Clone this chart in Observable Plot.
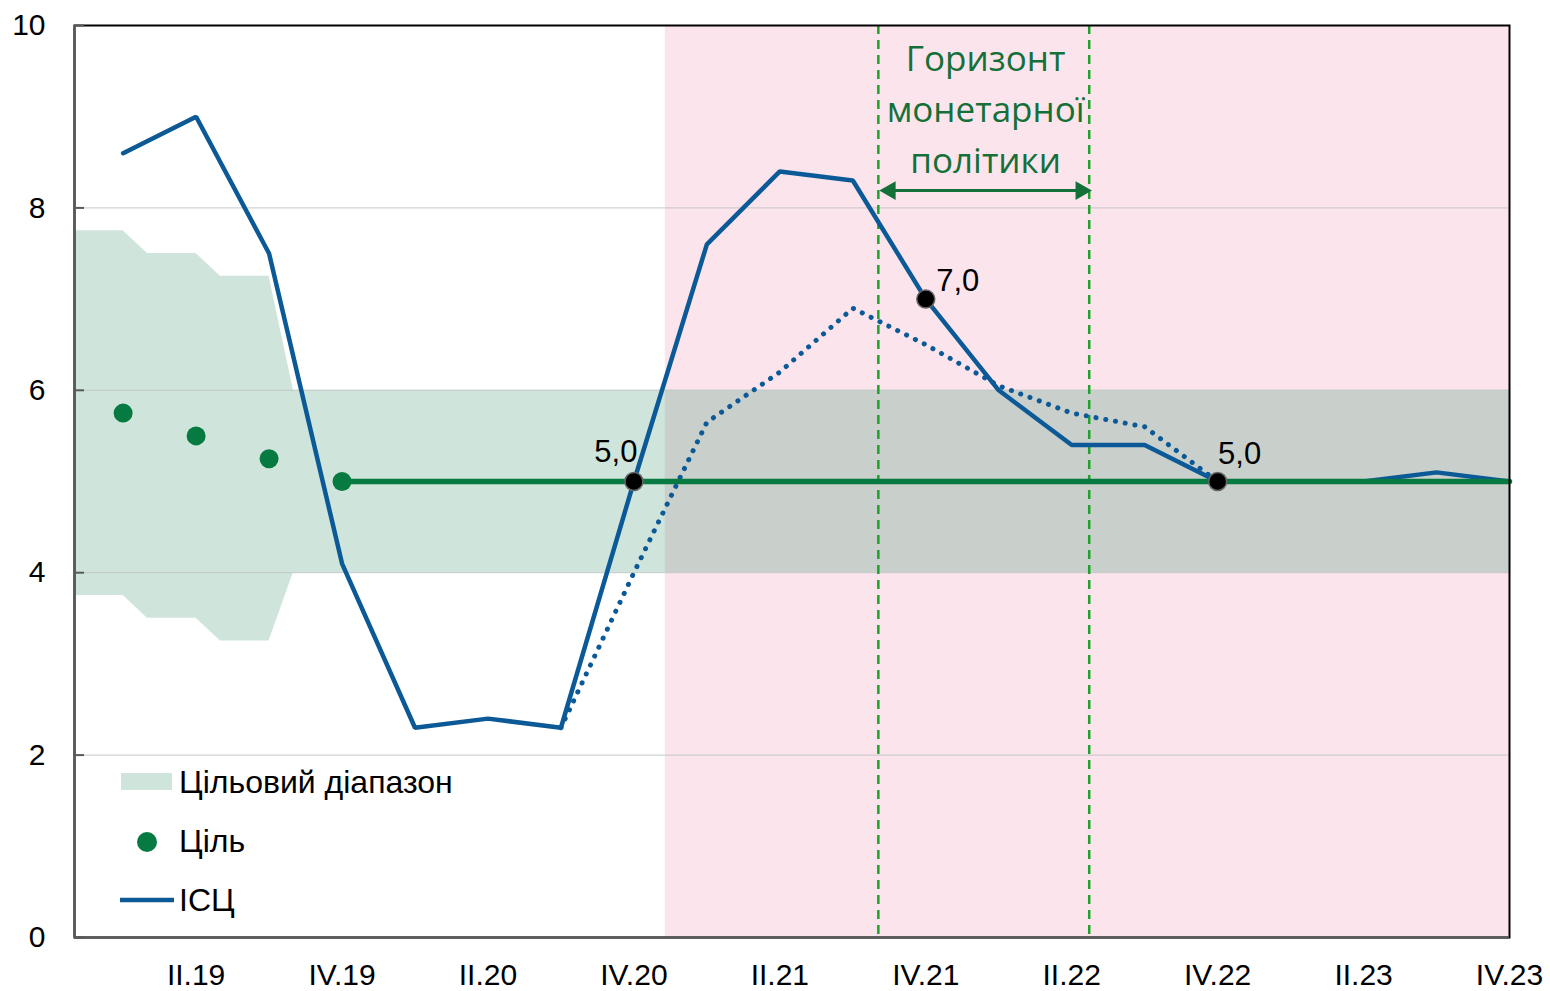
<!DOCTYPE html>
<html><head><meta charset="utf-8">
<script src="https://cdn.jsdelivr.net/npm/d3@7"></script>
<script src="https://cdn.jsdelivr.net/npm/@observablehq/plot@0.6"></script>
<style>body{margin:0;background:#fff}#chart{width:1550px;height:991px}</style>
</head><body><div id="chart"></div>
<script>
// Quarters (x index 0 = I.19)
const quarters = ["I.19","II.19","III.19","IV.19","I.20","II.20","III.20","IV.20","I.21","II.21","III.21","IV.21","I.22","II.22","III.22","IV.22","I.23","II.23","III.23","IV.23"];
const tickQuarters = ["II.19","IV.19","II.20","IV.20","II.21","IV.21","II.22","IV.22","II.23","IV.23"];
// CPI, % y/y (actual + current forecast)
const cpi = [8.6, 9.0, 7.5, 4.1, 2.3, 2.4, 2.3, 5.0, 7.6, 8.4, 8.3, 7.0, 6.0, 5.4, 5.4, 5.0, 5.0, 5.0, 5.1, 5.0];
// Previous forecast (dotted), from III.20
const cpiPrevQuarters = ["III.20","IV.20","I.21","II.21","III.21","IV.21","I.22","II.22","III.22","IV.22"];
const cpiPrev = [2.3, 4.0, 5.65, 6.2, 6.9, 6.5, 6.05, 5.75, 5.6, 5.0];
// Inflation target (point)
const targetDotQuarters = ["I.19","II.19","III.19","IV.19"];
const targetDots = [5.75, 5.5, 5.25, 5.0];
const targetLineQuarters = ["IV.19","IV.23"];
const targetLine = [5.0, 5.0];
// Target range (monthly breakpoints, "MM.YY")
const bandMonths = ["01.19","03.19","04.19","06.19","07.19","09.19","10.19","12.23"];
const bandLow  = [3.75, 3.75, 3.5, 3.5, 3.25, 3.25, 4.0, 4.0];
const bandHigh = [7.75, 7.75, 7.5, 7.5, 7.25, 7.25, 6.0, 6.0];
// Forecast period start (quarter index), policy horizon, arrow
const forecastStart = 7.43;
const horizonBounds = [10.35, 13.24];
const arrowEnds = [10.43, 13.21];
const arrowLevel = 8.19;
// Highlighted points
const markedQuarters = ["IV.20","IV.21","IV.22"];
const markedValues = [5.0, 7.0, 5.0];
const markedLabels = ["5,0","7,0","5,0"];
const yTicks = [0, 2, 4, 6, 8, 10];
const horizonText = "Горизонт\nмонетарної\nполітики";
const legendLabels = ["Цільовий діапазон", "Ціль", "ІСЦ"];

const qi = q => quarters.indexOf(q);
const monthX = s => { const [mm, yy] = s.split(".").map(Number); return ((yy - 19) * 12 + (mm - 1) - 2) / 3; };
const xMin = monthX("01.19"), xMax = qi("IV.23");

const C = {
  blue: "#0b5a97", green: "#077a42", band: "#cfe5db", pink: "#fce4ec", overlap: "#c9cfca",
  dash: "#1fa22a", arrow: "#137038", grid: "#c4c7c9", axis: "#595959"
};

const cpiData = cpi.map((v, i) => ({x: i, y: v}));
const prevData = cpiPrev.map((v, i) => ({x: qi(cpiPrevQuarters[i]), y: v}));
const dotData = targetDots.map((v, i) => ({x: qi(targetDotQuarters[i]), y: v}));
const lineData = targetLine.map((v, i) => ({x: qi(targetLineQuarters[i]), y: v}));
const bandData = bandMonths.map((m, i) => ({x: monthX(m), lo: bandLow[i], hi: bandHigh[i]}));
const marked = markedValues.map((v, i) => ({x: qi(markedQuarters[i]), y: v, label: markedLabels[i]}));
const labelOffsets = [[-18, -29], [32, -18], [22, -27]];
const arrowMid = (arrowEnds[0] + arrowEnds[1]) / 2;

const font = "'Liberation Sans', Arial, sans-serif";
const plot = Plot.plot({
  width: 1550, height: 991,
  marginLeft: 74, marginRight: 41, marginTop: 25, marginBottom: 54,
  x: {domain: [xMin, xMax]},
  y: {domain: [0, 10]},
  style: {fontFamily: font, background: "white", color: "#000"},
  marks: [
    Plot.rect([{x1: forecastStart, x2: xMax, y1: 0, y2: 10}], {x1: "x1", x2: "x2", y1: "y1", y2: "y2", fill: C.pink}),
    Plot.areaY(bandData, {x: "x", y1: "lo", y2: "hi", fill: C.band}),
    Plot.rect([{x1: forecastStart, x2: xMax, y1: bandLow[bandLow.length-1], y2: bandHigh[bandHigh.length-1]}], {x1: "x1", x2: "x2", y1: "y1", y2: "y2", fill: C.overlap}),
    Plot.gridY([2, 4, 6, 8], {stroke: C.grid, strokeOpacity: 1, strokeWidth: 1}),
    Plot.ruleX(horizonBounds, {stroke: C.dash, strokeWidth: 2.5, strokeDasharray: "9,6"}),
    Plot.line(prevData, {x: "x", y: "y", stroke: C.blue, strokeWidth: 5, strokeDasharray: "0.1,9.8", strokeLinecap: "round"}),
    Plot.line(cpiData, {x: "x", y: "y", stroke: C.blue, strokeWidth: 4.5, strokeLinejoin: "miter"}),
    Plot.line(lineData, {x: "x", y: "y", stroke: C.green, strokeWidth: 5.5}),
    Plot.dot(dotData, {x: "x", y: "y", r: 9.5, fill: C.green}),
    Plot.dot(marked, {x: "x", y: "y", r: 9, fill: "#000", stroke: "#666", strokeWidth: 1.5}),
    ...marked.map((d, i) => Plot.text([d], {x: "x", y: "y", text: "label", dx: labelOffsets[i][0], dy: labelOffsets[i][1], fontSize: 31, fill: "#000"})),
    Plot.text([{x: arrowMid, y: 9.12, t: horizonText}], {x: "x", y: "y", text: "t", fontSize: 35, lineHeight: 1.46, fill: C.arrow, fontWeight: 500, fontFamily: "'Open Sans', 'Noto Sans', sans-serif"}),
    Plot.link([{x1: arrowEnds[0], x2: arrowEnds[1], y: arrowLevel}], {x1: "x1", x2: "x2", y1: "y", y2: "y", stroke: C.arrow, strokeWidth: 3}),
    Plot.dot([{x: arrowEnds[1], y: arrowLevel}], {x: "x", y: "y", symbol: "triangle", r: 7, fill: C.arrow, rotate: 90, dx: -6}),
    Plot.dot([{x: arrowEnds[0], y: arrowLevel}], {x: "x", y: "y", symbol: "triangle", r: 7, fill: C.arrow, rotate: -90, dx: 6}),
    Plot.frame({stroke: "#000", strokeWidth: 2}),
    Plot.ruleX([xMin], {stroke: C.axis, strokeWidth: 2.5}),
    Plot.ruleY([0], {stroke: C.axis, strokeWidth: 2.5}),
    Plot.tickY(yTicks, {y: d => d, stroke: C.axis, strokeWidth: 2, insetRight: 1550 - 74 - 41 - 10}),
    Plot.axisY(yTicks, {tickSize: 0, tickPadding: 29, fontSize: 30, tickFormat: d => String(d)}),
    Plot.axisX(tickQuarters.map(qi), {tickSize: 0, tickPadding: 26, fontSize: 30, tickFormat: i => quarters[i]})
  ]
});
document.getElementById("chart").appendChild(plot);

// Legend inside the plot area (bottom-left)
const svg = d3.select(plot);
const lg = svg.append("g").attr("font-family", font).attr("font-size", 32).attr("fill", "#000").attr("text-anchor", "start");
lg.append("rect").attr("x", 121).attr("y", 773).attr("width", 51).attr("height", 17).attr("fill", C.band);
lg.append("text").attr("x", 179).attr("y", 793).text(legendLabels[0]);
lg.append("circle").attr("cx", 147).attr("cy", 842).attr("r", 10).attr("fill", C.green);
lg.append("text").attr("x", 179).attr("y", 852).text(legendLabels[1]);
lg.append("line").attr("x1", 120).attr("x2", 174).attr("y1", 900).attr("y2", 900).attr("stroke", C.blue).attr("stroke-width", 4.5);
lg.append("text").attr("x", 179).attr("y", 911).text(legendLabels[2]);
</script></body></html>
